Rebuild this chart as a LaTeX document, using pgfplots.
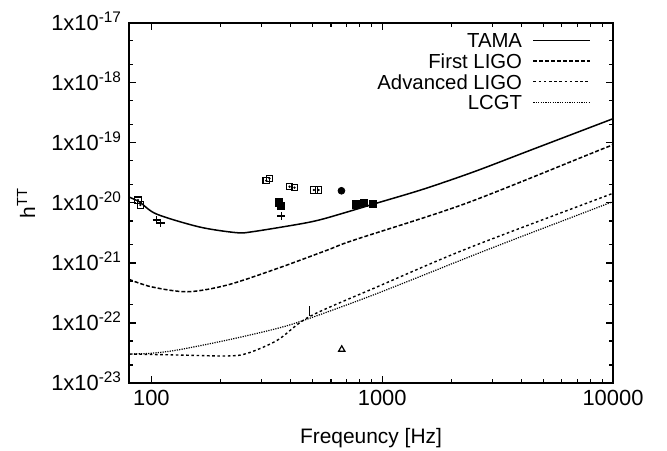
\documentclass[border=0pt]{standalone}
\usepackage{fontspec}
\setmainfont{Liberation Sans}
\usepackage{pgfplots}
\pgfplotsset{compat=1.18}
\begin{document}
\begin{tikzpicture}
\path[use as bounding box] (-64.5bp,-34bp) rectangle (269bp,191.5bp);
\begin{axis}[
 at={(0,0)}, anchor=south west,
 scale only axis, width=242bp, height=180.15bp,
 xmode=log, ymode=log,
 xmin=80, xmax=10000, ymin=1e-23, ymax=1e-17,
 xtick={100,1000,10000}, xticklabels={100,1000,10000},
 ytick={1e-23,1e-22,1e-21,1e-20,1e-19,1e-18,1e-17},
 yticklabels={1x10\smash{\textsuperscript{-23}},1x10\smash{\textsuperscript{-22}},1x10\smash{\textsuperscript{-21}},1x10\smash{\textsuperscript{-20}},1x10\smash{\textsuperscript{-19}},1x10\smash{\textsuperscript{-18}},1x10\smash{\textsuperscript{-17}}},
 minor ytick={2e-23,5e-23,2e-22,5e-22,2e-21,5e-21,2e-20,5e-20,2e-19,5e-19,2e-18,5e-18},
 major tick length=3.5bp, minor tick length=2bp,
 axis line style={line width=0.9bp},
 every tick/.style={black, line width=0.6bp},
 tick label style={font=\fontsize{11}{13}\selectfont},
 xlabel={Freqeuncy [Hz]},
 ylabel={h\textsuperscript{TT}},
 label style={font=\fontsize{10.5}{12}\selectfont},
 xlabel style={at={(axis description cs:0.5,-0.1665)}, anchor=base},
 ylabel style={at={(axis description cs:-0.2128,0.5)}, anchor=center},
 legend plot pos=right,
 legend cell align=right,
 legend image code/.code={\draw[#1] (0bp,0bp) -- (28.3bp,0bp);},
 legend style={at={(axis description cs:0.9548,0.9806)}, anchor=north east,
   draw=none, fill=none, inner sep=0pt, column sep=3.9bp,
   nodes={inner sep=1.4bp, text height=7.5bp, text depth=0bp, font=\fontsize{10.2}{12}\selectfont}},
]
% TAMA
\addplot[black, line width=0.75bp, smooth] coordinates {
(80,1.25e-20) (89,1.03e-20) (105.4,6.5e-21) (161.9,3.96e-21) (233.7,3.19e-21) (274.5,3.31e-21)
(438.6,4.44e-21) (535,5.2e-21) (666,6.6e-21) (942,9.84e-21) (1500,1.68e-20) (2500,3.3e-20)
(4335,7.4e-20) (10000,2.52e-19)};
\addlegendentry{TAMA}
% First LIGO
\addplot[black, line width=0.75bp, smooth, dash pattern=on 2bp off 1bp] coordinates {
(80,5.33e-22) (100,4.0e-22) (143.6,3.31e-22) (213.6,4.29e-22) (352.6,8.12e-22) (579.6,1.64e-21)
(756.5,2.41e-21) (2312,9.84e-21) (8750,7.58e-20) (10000,9.2e-20)};
\addlegendentry{First LIGO}
% Advanced LIGO
\addplot[black, line width=0.7bp, smooth, dash pattern=on 1.3bp off 1.3bp] coordinates {
(80,3.04e-23) (130,2.93e-23) (213.6,2.82e-23) (261,3.13e-23) (352.6,5.2e-23) (483,1.27e-22)
(955,4.02e-22) (2312,1.71e-21) (8750,1.19e-20) (10000,1.44e-20)};
\addlegendentry{Advanced LIGO}
% LCGT
\addplot[black, line width=0.6bp, smooth, dash pattern=on 0.6bp off 0.6bp] coordinates {
(80,3.04e-23) (100,3.13e-23) (130,3.55e-23) (213.6,5.2e-23) (352.6,8.15e-23) (483,1.19e-22)
(955,3.12e-22) (2914,1.71e-21) (8750,8.63e-21) (10000,1.05e-20)};
\addlegendentry{LCGT}
% markers
\addplot[forget plot, only marks, mark=square, mark size=1.6bp, mark options={line width=0.6bp, fill=white}] coordinates {
(87.5,1.11e-20) (89.6,9.2e-21) (314.6,2.34e-20) (325,2.56e-20) (397,1.86e-20) (417,1.79e-20) (506,1.64e-20) (530,1.64e-20)};
\addplot[forget plot, only marks, mark=*, mark size=0.35bp] coordinates {
(87.5,1.11e-20) (89.6,9.2e-21) (314.6,2.34e-20) (325,2.56e-20) (397,1.86e-20) (417,1.79e-20) (506,1.64e-20) (530,1.64e-20)};
\addplot[forget plot, only marks, mark=square*, mark size=1.8bp] coordinates {
(357,1.02e-20) (365,8.87e-21) (772,9.46e-21) (832,1.0e-20) (911,9.57e-21)};
\addplot[forget plot, only marks, mark=*, mark size=1.7bp] coordinates {(666,1.59e-20)};
\addplot[forget plot, only marks, mark=+, mark size=2bp, mark options={line width=0.7bp}] coordinates {
(105.4,5.18e-21) (109.7,4.61e-21) (366,6.04e-21)};
\addplot[forget plot, only marks, mark=|, mark size=2.5bp, mark options={line width=0.6bp}] coordinates {(483,1.58e-22)};
\addplot[forget plot, only marks, mark=triangle, mark size=1.8bp, mark options={line width=0.6bp}] coordinates {(668,3.63e-23)};
\end{axis}
\end{tikzpicture}
\end{document}
